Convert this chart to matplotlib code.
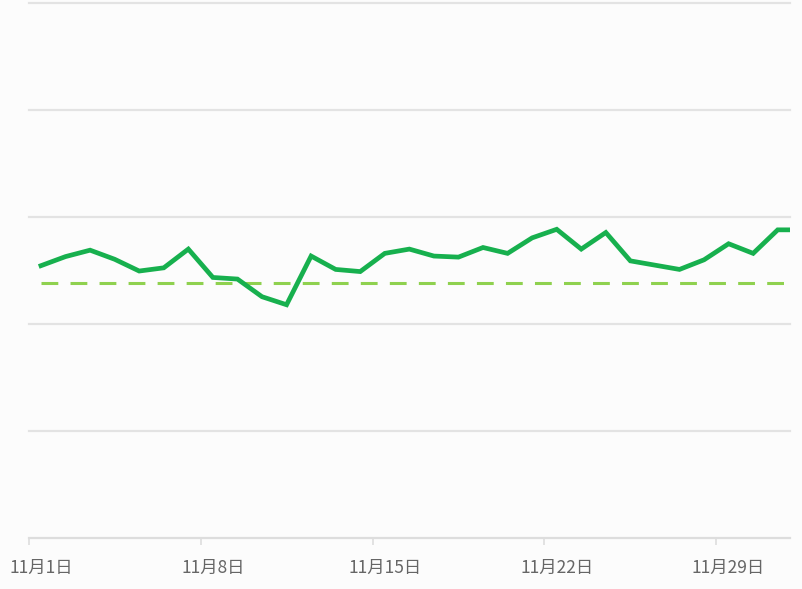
import matplotlib
matplotlib.use("Agg")
import matplotlib.pyplot as plt
import numpy as np

plt.rcParams['font.family'] = ['Noto Sans CJK SC', 'DejaVu Sans']

# Daily values (11/1 .. 12/2), arbitrary units
values = [50.9, 52.6, 53.8, 52.1, 49.9, 50.5, 54.0, 48.7, 48.4, 45.1,
          43.6, 52.7, 50.2, 49.8, 53.2, 54.0, 52.7, 52.5, 54.3, 53.2,
          56.1, 57.7, 54.0, 57.1, 51.8, 51.0, 50.2, 52.0, 55.0, 53.2,
          57.6, 57.6]
average = 47.7
tick_days = [1, 8, 15, 22, 29]
tick_labels = [f"11月{d}日" for d in tick_days]

W, H = 802, 589
fig = plt.figure(figsize=(W / 100, H / 100), dpi=100)
fig.patch.set_facecolor('#fcfcfc')
left, right, top, bottom = 28.7, 790, 3, 538
ax = fig.add_axes([left / W, 1 - bottom / H, (right - left) / W, (bottom - top) / H])
ax.set_facecolor('#fcfcfc')

x = np.arange(len(values))
ax.set_xlim(-0.5, 30.5)
ax.set_ylim(0, 100)

for gy in [20, 40, 60, 80, 100]:
    ax.axhline(gy, color='#e3e3e3', lw=1.6, zorder=1, clip_on=False)

ax.plot([0, 30.5], [average, average], color='#8fd14f', lw=2.2,
        dashes=(5.5, 4), zorder=2)
ax.plot(x, values, color='#17b04e', lw=3.4, zorder=3, solid_joinstyle='miter')

for s in ['top', 'right', 'left']:
    ax.spines[s].set_visible(False)
ax.spines['bottom'].set_color('#dddddd')
ax.spines['bottom'].set_linewidth(1.6)
ax.set_yticks([])

ax.set_xticks([d - 1.5 for d in tick_days])
ax.set_xticklabels([])
ax.tick_params(axis='x', length=5, width=1.2, color='#dddddd')
for d, lab in zip(tick_days, tick_labels):
    ax.text(d - 1, -5.6, lab, ha='center', va='center', fontsize=12.5,
            color='#666666', fontweight='medium',
            transform=ax.transData, clip_on=False)

fig.savefig('out.png', dpi=100, facecolor=fig.get_facecolor())
